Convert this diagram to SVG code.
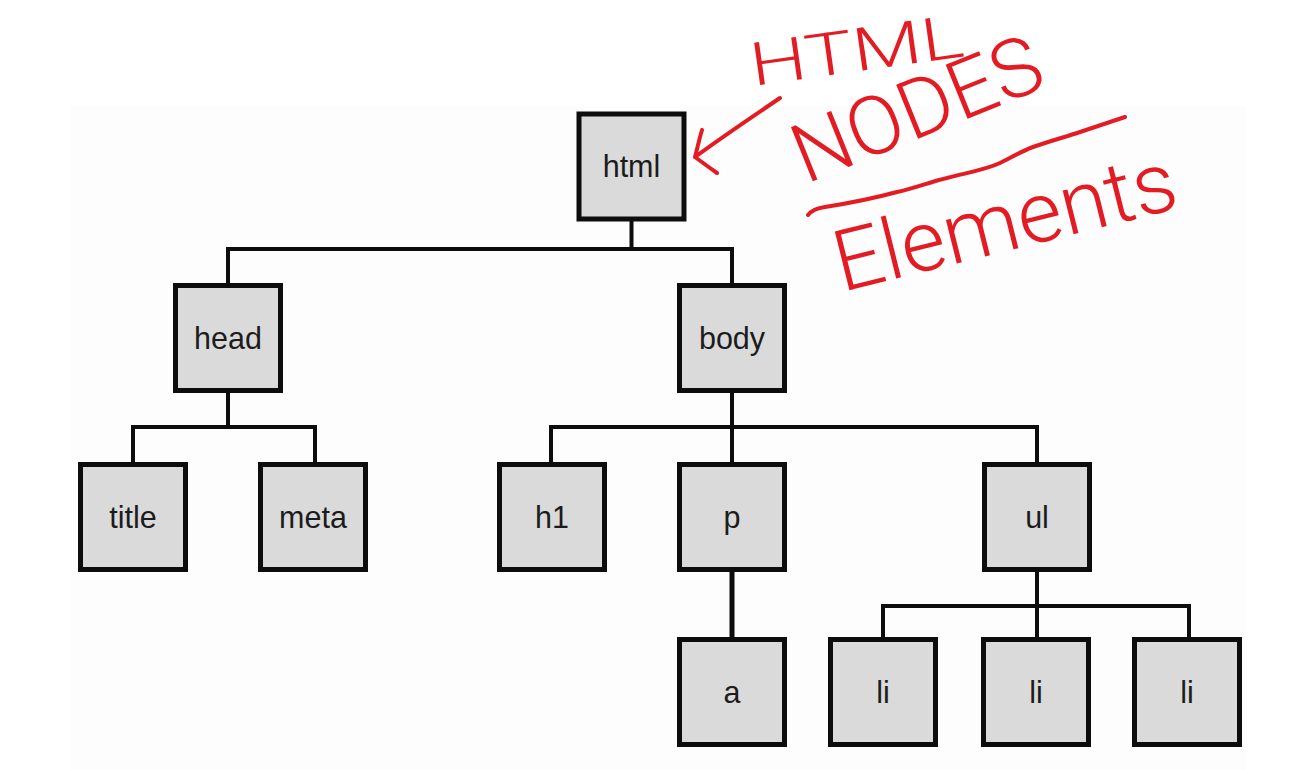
<svg xmlns="http://www.w3.org/2000/svg" width="1306" height="770" viewBox="0 0 1306 770">
<style>
.box{fill:#dadada;stroke:#0d0d0d;stroke-width:5}
.lbl{font-family:"Liberation Sans",Arial,sans-serif;font-size:30.5px;fill:#1c1c1c;text-anchor:middle}
.con{fill:none;stroke:#0d0d0d;stroke-width:4;stroke-linecap:square}
.ink{fill:none;stroke:#e31b23;stroke-width:4;stroke-linecap:round;stroke-linejoin:round}
.hand{font-family:Roboto,"Liberation Sans",sans-serif;font-weight:300;fill:#e31b23}
</style>
<rect width="1306" height="770" fill="#ffffff"/>
<rect x="70" y="106" width="1176" height="664" fill="#fdfdfd"/>
<g id="connectors">
<path class="con" d="M228,284 V249 H732 V284 M631.5,221 V249"/>
<path class="con" d="M228,393 V427 M133,462 V427 H315 V462"/>
<path class="con" d="M732,393 V462 M551,462 V427 H1037 V462"/>
<path class="con" d="M732,573 V637" style="stroke-width:5"/>
<path class="con" d="M1037,573 V637 M883,637 V606 H1189 V637"/>
</g>
<g id="html"><rect class="box" x="579" y="114" width="105" height="105"/><text class="lbl" x="631.5" y="177">html</text></g>
<g id="head"><rect class="box" x="175.5" y="285.5" width="105" height="105"/><text class="lbl" x="228" y="349">head</text></g>
<g id="body"><rect class="box" x="679.5" y="285.5" width="105" height="105"/><text class="lbl" x="732" y="349">body</text></g>
<g id="title"><rect class="box" x="80.5" y="464.5" width="105" height="105"/><text class="lbl" x="133" y="528">title</text></g>
<g id="meta"><rect class="box" x="260.5" y="464.5" width="105" height="105"/><text class="lbl" x="313" y="528">meta</text></g>
<g id="h1"><rect class="box" x="499.5" y="464.5" width="105" height="105"/><text class="lbl" x="552" y="528">h1</text></g>
<g id="p"><rect class="box" x="679.5" y="464.5" width="105" height="105"/><text class="lbl" x="732" y="528">p</text></g>
<g id="ul"><rect class="box" x="984.5" y="464.5" width="105" height="105"/><text class="lbl" x="1037" y="528">ul</text></g>
<g id="a"><rect class="box" x="679.5" y="639.5" width="105" height="105"/><text class="lbl" x="732" y="703">a</text></g>
<g id="li1"><rect class="box" x="830.5" y="639.5" width="105" height="105"/><text class="lbl" x="883" y="703">li</text></g>
<g id="li2"><rect class="box" x="983.5" y="639.5" width="105" height="105"/><text class="lbl" x="1036" y="703">li</text></g>
<g id="li3"><rect class="box" x="1134.5" y="639.5" width="105" height="105"/><text class="lbl" x="1187" y="703">li</text></g>
<g id="annotation">
<path class="ink" d="M780,98 C755,115 725,135 695,157 M702,130 C699,140 697,150 695,157 C703,163 710,168 717,173"/>
<path class="ink" d="M808,215 C812,210 818,208 825,207 C850,203 875,198 897,192 C915,188 930,182 947,178 C965,173 985,170 1000,163 C1012,157 1022,151 1033,147 C1050,141 1065,137 1080,132 C1095,127 1110,122 1125,117"/>
<text class="hand" x="753" y="86" font-size="60" textLength="215" lengthAdjust="spacingAndGlyphs" transform="rotate(-8 753 86)">HTML</text>
<text class="hand" x="806" y="184" font-size="82" textLength="262" lengthAdjust="spacingAndGlyphs" transform="rotate(-22 806 184)">NODES</text>
<text class="hand" x="842" y="292" font-size="85" textLength="350" lengthAdjust="spacingAndGlyphs" transform="rotate(-14 842 292)">Elements</text>
</g>
</svg>
